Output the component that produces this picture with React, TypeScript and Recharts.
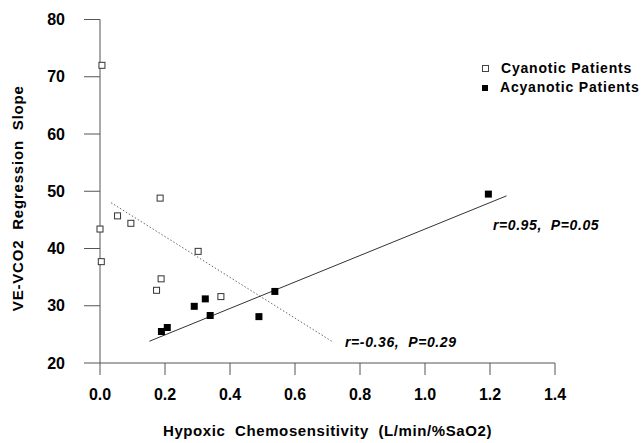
import {
  ScatterChart,
  Scatter,
  XAxis,
  YAxis,
  ReferenceLine,
  ReferenceDot,
  Legend,
} from "recharts";

// values
const cyanoticX = [0.006, 0.185, 0.054, 0.095, 0.0, 0.302, 0.004, 0.188, 0.174, 0.372];
const cyanoticY = [72.0, 48.8, 45.7, 44.4, 43.4, 39.5, 37.7, 34.7, 32.7, 31.6];
const acyanoticX = [0.189, 0.207, 0.29, 0.324, 0.339, 0.489, 0.538, 1.195];
const acyanoticY = [25.5, 26.2, 29.9, 31.2, 28.3, 28.1, 32.5, 49.5];

// regression lines (end points)
const cyanoticFit = [
  { x: 0.034, y: 48.0 },
  { x: 0.716, y: 23.7 },
];
const acyanoticFit = [
  { x: 0.152, y: 23.8 },
  { x: 1.251, y: 49.2 },
];

const xTicks = [0, 0.2, 0.4, 0.6, 0.8, 1.0, 1.2, 1.4];
const yTicks = [20, 30, 40, 50, 60, 70, 80];

const seriesNames = ["Cyanotic Patients", "Acyanotic Patients"];
const notes = [
  { x: 1.209, y: 44.1, text: "r=0.95,\u00a0\u00a0P=0.05" },
  { x: 0.754, y: 23.7, text: "r=-0.36,\u00a0\u00a0P=0.29" },
];

const cyanotic = cyanoticX.map((x, i) => ({ x, y: cyanoticY[i] }));
const acyanotic = acyanoticX.map((x, i) => ({ x, y: acyanoticY[i] }));

const FONT = "'Liberation Sans', Arial, sans-serif";
const AXIS = "#555";

const OpenSquare = (p: any) => (
  <rect x={p.cx - 3} y={p.cy - 3} width={6} height={6} fill="#fff" stroke="#333" strokeWidth={1} />
);
const FilledSquare = (p: any) => (
  <rect x={p.cx - 3.5} y={p.cy - 3.5} width={7} height={7} fill="#000" />
);

const renderLegend = () => (
  <div style={{ fontFamily: FONT, fontSize: 14, fontWeight: "bold", letterSpacing: 0.8, lineHeight: "19px" }}>
    {seriesNames.map((name, i) => (
      <div key={name} style={{ display: "flex", alignItems: "center" }}>
        <span
          style={{
            display: "inline-block",
            width: i === 0 ? 5 : 6,
            height: i === 0 ? 5 : 6,
            border: i === 0 ? "1px solid #444" : "none",
            background: i === 0 ? "#fff" : "#000",
            marginRight: 12,
          }}
        />
        {name}
      </div>
    ))}
  </div>
);

export default function App() {
  return (
    <div style={{ position: "absolute", left: 0, top: 0, background: "#fff" }}>
      <ScatterChart width={641} height={443} margin={{ top: 19.5, right: 86, bottom: 0, left: 0 }}>
        <XAxis
          type="number"
          dataKey="x"
          domain={[0, 1.4]}
          ticks={xTicks}
          tickFormatter={(v: number) => v.toFixed(1)}
          height={80}
          stroke={AXIS}
          tickSize={12}
          tickMargin={14}
          tick={{ fill: "#000", fontSize: 16, fontFamily: FONT, fontWeight: "bold" }}
          label={{
            value: "Hypoxic\u00a0\u00a0Chemosensitivity\u00a0\u00a0(L/min/%SaO2)",
            position: "insideBottom",
            offset: 7,
            fill: "#000",
            fontSize: 15,
            fontFamily: FONT,
            fontWeight: "bold",
            letterSpacing: 0.6,
          }}
        />
        <YAxis
          type="number"
          dataKey="y"
          domain={[20, 80]}
          ticks={yTicks}
          width={100}
          stroke={AXIS}
          tickSize={16}
          tickMargin={19}
          tick={{ fill: "#000", fontSize: 16, fontFamily: FONT, fontWeight: "bold" }}
          label={{
            value: "VE-VCO2\u00a0\u00a0Regression\u00a0\u00a0Slope",
            angle: -90,
            position: "insideLeft",
            offset: 18,
            dy: 7,
            fill: "#000",
            fontSize: 15,
            fontFamily: FONT,
            fontWeight: "bold",
            letterSpacing: 0.8,
            style: { textAnchor: "middle" },
          }}
        />
        <ReferenceLine
          segment={cyanoticFit}
          stroke="#666"
          strokeWidth={1}
          strokeDasharray="1.5 2"
          ifOverflow="visible"
        />
        <ReferenceLine segment={acyanoticFit} stroke="#333" strokeWidth={1} ifOverflow="visible" />
        <Scatter name={seriesNames[0]} data={cyanotic} shape={OpenSquare} isAnimationActive={false} />
        <Scatter name={seriesNames[1]} data={acyanotic} shape={FilledSquare} isAnimationActive={false} />
        {notes.map((n) => (
          <ReferenceDot
            key={n.text}
            x={n.x}
            y={n.y}
            r={0}
            stroke="none"
            fill="none"
            ifOverflow="visible"
            label={{
              value: n.text,
              position: "right",
              offset: 0,
              fill: "#000",
              fontSize: 14,
              fontFamily: FONT,
              fontWeight: "bold",
              fontStyle: "italic",
              letterSpacing: 0.6,
            }}
          />
        ))}
        <Legend
          layout="vertical"
          verticalAlign="middle"
          align="center"
          content={renderLegend}
          wrapperStyle={{ top: 59, left: 482, width: 160 }}
        />
      </ScatterChart>
    </div>
  );
}
